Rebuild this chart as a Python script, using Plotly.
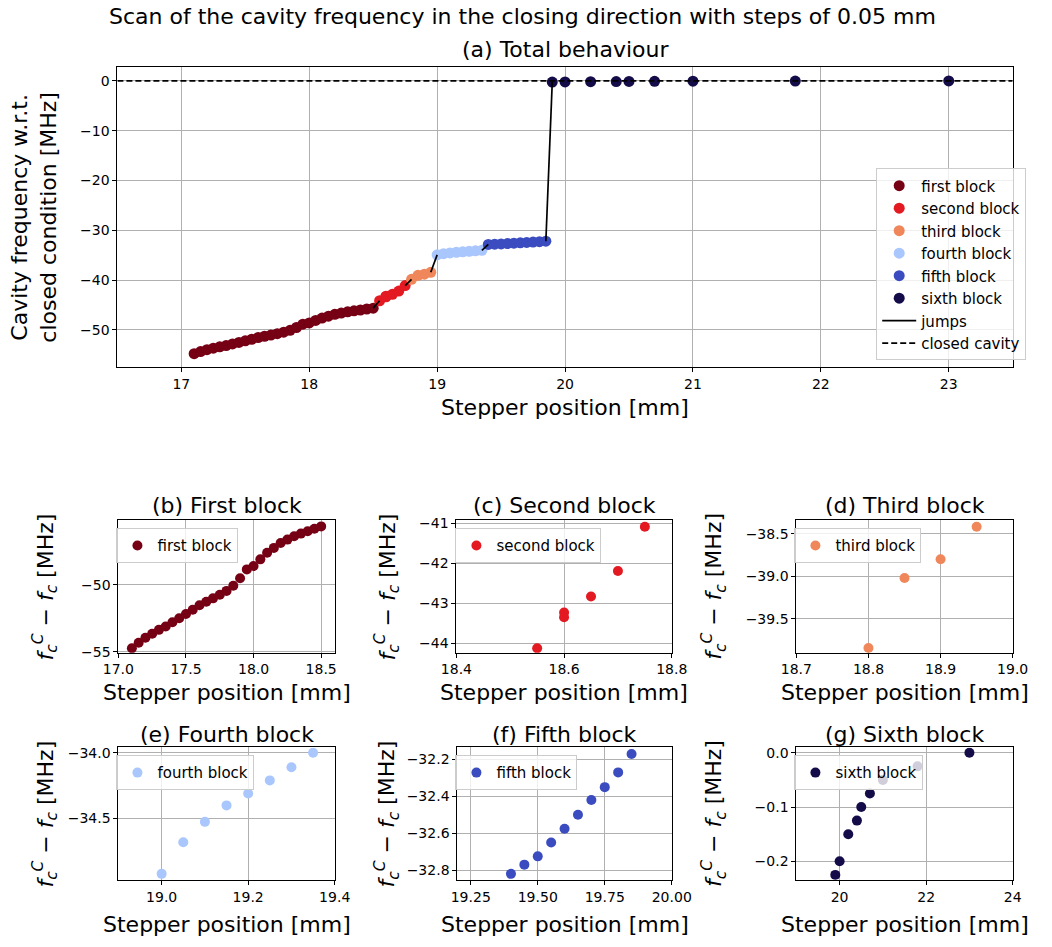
import plotly.graph_objects as go

# ---------------- data ----------------
block_names = ["first block", "second block", "third block", "fourth block", "fifth block", "sixth block"]
block_colors = ["#760014", "#e31a22", "#f0875a", "#aac7fd", "#3b4cc0", "#140c48"]

first_x = [17.10, 17.15, 17.20, 17.25, 17.30, 17.35, 17.40, 17.45, 17.50, 17.55,
           17.60, 17.65, 17.70, 17.75, 17.80, 17.85, 17.90, 17.95, 18.00, 18.05,
           18.10, 18.15, 18.20, 18.25, 18.30, 18.35, 18.40, 18.45, 18.50]
first_y = [-54.75, -54.33, -53.96, -53.66, -53.37, -53.12, -52.80, -52.50, -52.18, -51.86,
           -51.53, -51.26, -51.01, -50.74, -50.45, -50.07, -49.50, -48.84, -48.59, -48.09,
           -47.60, -47.23, -46.86, -46.61, -46.36, -46.16, -45.99, -45.79, -45.62]

second_x = [18.55, 18.60, 18.60, 18.65, 18.70, 18.75]
second_y = [-44.13, -43.23, -43.35, -42.83, -42.19, -41.08]

third_x = [18.80, 18.85, 18.90, 18.95]
third_y = [-39.84, -39.02, -38.80, -38.42]

fourth_x = [19.00, 19.05, 19.10, 19.15, 19.20, 19.25, 19.30, 19.35]
fourth_y = [-34.92, -34.68, -34.525, -34.40, -34.31, -34.21, -34.11, -34.00]

fifth_x = [19.40, 19.45, 19.50, 19.55, 19.60, 19.65, 19.70, 19.75, 19.80, 19.85]
fifth_y = [-32.82, -32.77, -32.725, -32.65, -32.575, -32.50, -32.42, -32.35, -32.27, -32.17]

sixth_x = [19.9, 20.0, 20.2, 20.4, 20.5, 20.7, 21.0, 21.8, 23.0]
sixth_y = [-0.225, -0.2, -0.15, -0.125, -0.1, -0.075, -0.05, -0.025, 0.0]

closed_cavity_freq = 0.0

block_x = [first_x, second_x, third_x, fourth_x, fifth_x, sixth_x]
block_y = [first_y, second_y, third_y, fourth_y, fifth_y, sixth_y]

sub_titles = ["(b) First block", "(c) Second block", "(d) Third block",
              "(e) Fourth block", "(f) Fifth block", "(g) Sixth block"]

# ---------------- layout geometry (pixels) ----------------
W, H = 1052, 947
FONT = "DejaVu Sans"


def px_x(p):
    return p / W


def px_y(p):
    return 1 - p / H


main_box = (105, 1032, 63, 367)  # left, right, top, bottom
sub_boxes = [
    (106, 330, 522, 656), (456, 679, 522, 656), (808, 1032, 522, 656),
    (106, 330, 752, 886), (457, 679, 752, 886), (808, 1032, 752, 886),
]
main_xrange = [16.5, 23.5]
main_yrange = [-57.5, 2.75]
sub_xranges = [[17.0, 18.6], [18.4, 18.8], [18.7, 19.0], [18.9, 19.4], [19.2, 20.0], [19.0, 24.0]]
sub_yranges = [[-55.08, -45.17], [-44.24, -40.92], [-39.895, -38.345],
               [-34.965, -33.96], [-32.852, -32.135], [-0.234, 0.0098]]
sub_xdtick = [0.5, 0.2, 0.1, 0.2, 0.25, 2]
sub_xfmt = [".1f", ".1f", ".1f", ".1f", ".2f", "d"]
sub_ydtick = [5, 1, 0.5, 0.5, 0.2, 0.1]
sub_yfmt = ["d", "d", ".1f", ".1f", ".1f", ".1f"]

fig = go.Figure()

# ---------------- main panel ----------------
for i in range(6):
    fig.add_trace(go.Scatter(
        x=block_x[i], y=block_y[i], mode="markers", name=block_names[i],
        marker=dict(color=block_colors[i], size=11, line=dict(width=0)),
        xaxis="x", yaxis="y", legend="legend", legendgroup=f"g{i}",
    ))

jx, jy = [], []
for i in range(5):
    jx += [block_x[i][-1], block_x[i + 1][0], None]
    jy += [block_y[i][-1], block_y[i + 1][0], None]
fig.add_trace(go.Scatter(x=jx, y=jy, mode="lines", name="jumps",
                         line=dict(color="black", width=1.7),
                         xaxis="x", yaxis="y", legend="legend", legendgroup="gj"))
fig.add_trace(go.Scatter(x=main_xrange, y=[closed_cavity_freq, closed_cavity_freq],
                         mode="lines", name="closed cavity",
                         line=dict(color="black", width=1.8, dash="6px,3px"),
                         xaxis="x", yaxis="y", legend="legend", legendgroup="gc"))

# ---------------- sub panels ----------------
for i in range(6):
    fig.add_trace(go.Scatter(
        x=block_x[i], y=block_y[i], mode="markers", name=block_names[i],
        marker=dict(color=block_colors[i], size=10, line=dict(width=0)),
        xaxis=f"x{i + 2}", yaxis=f"y{i + 2}", legend=f"legend{i + 2}",
    ))

axis_common = dict(
    showline=True, linecolor="black", linewidth=1, mirror=True,
    ticks="outside", ticklen=4, tickwidth=1, tickcolor="black",
    showgrid=True, gridcolor="#b0b0b0", gridwidth=1, zeroline=False,
    tickfont=dict(family=FONT, size=14, color="black"),
)

layout = dict(
    width=W, height=H, margin=dict(l=0, r=0, t=0, b=0),
    paper_bgcolor="white", plot_bgcolor="white",
    font=dict(family=FONT, color="black"),
    xaxis=dict(domain=[px_x(main_box[0]), px_x(main_box[1])], range=main_xrange,
               tickmode="linear", tick0=17, dtick=1, anchor="y", **axis_common),
    yaxis=dict(domain=[px_y(main_box[3]), px_y(main_box[2])], range=main_yrange,
               tickmode="linear", tick0=0, dtick=10, anchor="x", **axis_common),
    legend=dict(x=px_x(1046), xanchor="right", y=px_y(360), yanchor="bottom",
                bgcolor="rgba(255,255,255,0.8)", bordercolor="#cccccc", borderwidth=1,
                font=dict(family=FONT, size=15, color="black"),
                traceorder="grouped", tracegroupgap=0, itemwidth=34),
)

legend_pos = [(104, 530), (455, 530), (806, 530), (104, 760), (455, 760), (806, 760)]
for i in range(6):
    l, r, t, b = sub_boxes[i]
    layout[f"xaxis{i + 2}"] = dict(domain=[px_x(l), px_x(r)], range=sub_xranges[i],
                                   tickmode="linear", tick0=0, dtick=sub_xdtick[i],
                                   tickformat=sub_xfmt[i], anchor=f"y{i + 2}", **axis_common)
    layout[f"yaxis{i + 2}"] = dict(domain=[px_y(b), px_y(t)], range=sub_yranges[i],
                                   tickmode="linear", tick0=0, dtick=sub_ydtick[i],
                                   tickformat=sub_yfmt[i], anchor=f"x{i + 2}", **axis_common)
    lx, ly = legend_pos[i]
    layout[f"legend{i + 2}"] = dict(x=px_x(lx), xanchor="left", y=px_y(ly), yanchor="top",
                                    bgcolor="rgba(255,255,255,0.8)", bordercolor="#cccccc",
                                    borderwidth=1, font=dict(family=FONT, size=15, color="black"))

fig.update_layout(**layout)

# ---------------- texts ----------------
def ann(text, x, y, size=22, angle=0):
    fig.add_annotation(text=text, x=px_x(x), y=px_y(y), xref="paper", yref="paper",
                       showarrow=False, textangle=angle, xanchor="center", yanchor="middle",
                       font=dict(family=FONT, size=size, color="black"))


ann("Scan of the cavity frequency in the closing direction with steps of 0.05 mm", 524, 12)
ann("(a) Total behaviour", (main_box[0] + main_box[1]) / 2, 45)
ann("Stepper position [mm]", (main_box[0] + main_box[1]) / 2, 408)
ann("Cavity frequency w.r.t.<br>closed condition [MHz]", 19, (main_box[2] + main_box[3]) / 2, angle=-90)

ylab = "<i>f</i><sub><i>c</i></sub><sup><i>C</i></sup> − <i>f</i><sub><i>c</i></sub> [MHz]"
ylab_x = [30, 384, 722, 30, 384, 722]
xlab_off = [40, 40, 40, 45, 45, 45]
title_off = [15, 15, 15, 13, 13, 13]
for i in range(6):
    l, r, t, b = sub_boxes[i]
    cx = (l + r) / 2
    ann(sub_titles[i], cx, t - title_off[i])
    ann("Stepper position [mm]", cx, b + xlab_off[i])
    ann(ylab, ylab_x[i], (t + b) / 2, angle=-90)

fig.write_html("out.html")
